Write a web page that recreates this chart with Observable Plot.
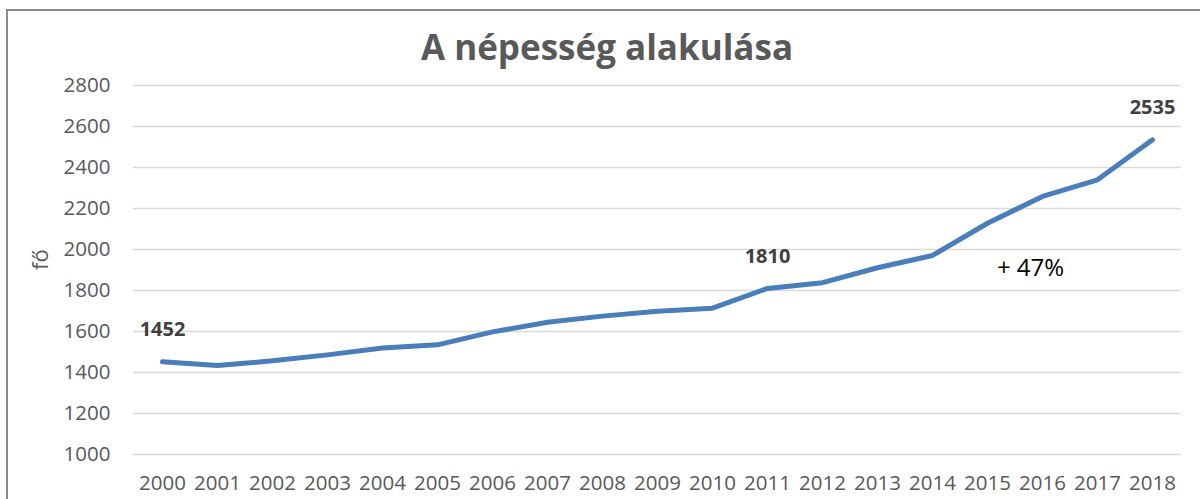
<!DOCTYPE html>
<html>
<head>
<meta charset="utf-8">
<script src="https://cdn.jsdelivr.net/npm/d3@7"></script>
<script src="https://cdn.jsdelivr.net/npm/@observablehq/plot@0.6"></script>
<style>
  html, body { margin: 0; padding: 0; background: #fff; overflow: hidden; }
  #wrap { position: relative; width: 1200px; height: 499px; }
  #title { position: absolute; left: 0; top: 29px; width: 1214px; text-align: center;
           font-family: "Open Sans", sans-serif; font-weight: bold; font-size: 35px; line-height: 35px; color: #595959; }
  #spacer { height: 60px; }
  #border { position: absolute; left: 6px; top: 9px; width: 1300px; height: 700px; border: 2px solid #8a8a8a; pointer-events: none; }
</style>
</head>
<body>
<div id="wrap">
  <div id="border"></div>
  <div id="spacer"></div>
  <div id="chart"></div>
  <div id="title">A népesség alakulása</div>
</div>
<script>
const years = ["2000","2001","2002","2003","2004","2005","2006","2007","2008","2009","2010","2011","2012","2013","2014","2015","2016","2017","2018"];
const population = [1452,1434,1457,1486,1519,1535,1598,1645,1675,1699,1714,1810,1838,1911,1971,2128,2259,2340,2535];
const labeledYears = ["2000","2011","2018"];
const yTicks = [1000,1200,1400,1600,1800,2000,2200,2400,2600,2800];
const annotationText = ["+ 47%"];
const annotationYear = ["2016"];
const annotationValue = [1910];
const yLabel = "fő";

const data = years.map((year, i) => ({year, value: population[i]}));
const labeled = data.filter(d => labeledYears.includes(d.year));
const annotations = annotationText.map((text, i) => ({text, year: annotationYear[i], value: annotationValue[i]}));

const chart = Plot.plot({
  width: 1200,
  height: 439,
  marginTop: 25,
  marginBottom: 45,
  marginLeft: 133,
  marginRight: 19,
  style: {fontFamily: "'Open Sans', sans-serif", fontSize: "20.5px", color: "#595959", background: "transparent", overflow: "visible"},
  x: {type: "point", domain: years, padding: 0.5},
  y: {domain: [1000, 2800]},
  marks: [
    Plot.gridY(yTicks, {stroke: "#d9d9d9", strokeOpacity: 1, strokeWidth: 1.5}),
    Plot.axisY(yTicks, {tickSize: 0, tickPadding: 23, fontSize: 20.5, fill: "#595959",
      tickFormat: d => String(d), label: null}),
    Plot.text([yLabel], {frameAnchor: "left", rotate: -90, dx: -93, fontSize: 22, fill: "#595959", text: d => d}),
    Plot.axisX({tickSize: 0, tickPadding: 21, fontSize: 20.5, fill: "#595959", label: null}),
    Plot.line(data, {x: "year", y: "value", stroke: "#4a7ebb", strokeWidth: 5,
      strokeLinecap: "round", strokeLinejoin: "round"}),
    Plot.text(labeled, {x: "year", y: "value", text: d => String(d.value), dy: -32,
      fontWeight: "bold", fontSize: 20, fill: "#404040"}),
    Plot.text(annotations, {x: "year", y: "value", text: "text", dx: -12, fontSize: 24, fill: "#000"})
  ]
});
document.getElementById("chart").appendChild(chart);
</script>
</body>
</html>
